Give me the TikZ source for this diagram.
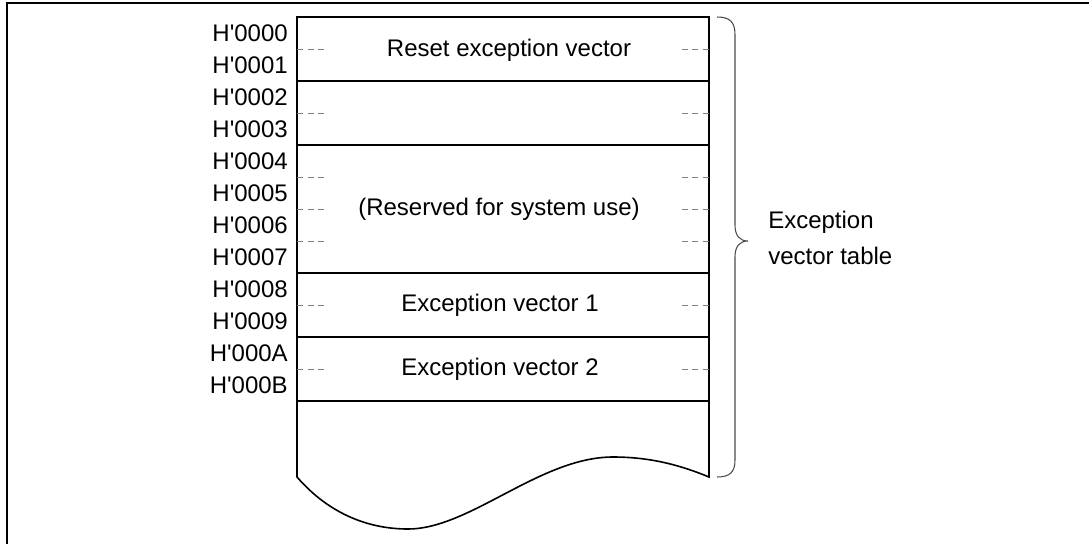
\documentclass[tikz,border=0pt]{standalone}
\usepackage{fontspec}
\setmainfont{Liberation Sans}[Ligatures=TeXOff]
\begin{document}
\begin{tikzpicture}[x=0.75pt,y=-0.75pt,
  lbl/.style={inner sep=0pt,font=\fontsize{18}{21}\selectfont},
  addr/.style={lbl,anchor=east},
  tline/.style={line width=1.2pt,black},
  dsh/.style={line width=0.7pt,gray,dash pattern=on 4.5pt off 3.5pt},
  frame/.style={line width=1.6pt,black}]
\useasboundingbox (0,0) rectangle (1089,544);
% outer frame (top and left)
\draw[frame] (7,544) -- (7,3) -- (1089,3);
% table
\coordinate (tl) at (297,17);
\coordinate (tr) at (709,17);
\coordinate (bl) at (297,477);
\coordinate (br) at (709,477);
\draw[tline] (bl) -- (tl) -- (tr) -- (br)
  .. controls (680,465) and (650,457) .. (613,457)
  .. controls (540,457) and (470,529) .. (408,529)
  .. controls (370,529) and (330,515) .. (bl) -- cycle;
\foreach \y in {81,145,273,337,401}
  \draw[tline] (297,\y) -- (709,\y);
% dashes
\foreach \y in {49,113,177,209,241,305,369}{
  \draw[dsh] (297,\y) -- (326,\y);
  \draw[dsh] (709,\y) -- (680,\y);
}
% addresses
\foreach \i/\t in {0/0000,1/0001,2/0002,3/0003,4/0004,5/0005,6/0006,7/0007,8/0008,9/0009,10/000A,11/000B}
  \node[addr] (a\i) at (288,{33+32*\i}) {H'\t};
% row texts
\node[lbl] (r0) at (509,50) {Reset exception vector};
\node[lbl] (r1) at (499,209) {(Reserved for system use)};
\node[lbl] (r2) at (500,305) {Exception vector 1};
\node[lbl] (r3) at (500,369) {Exception vector 2};
% brace
\draw[line width=0.8pt,black!70] (717,17) .. controls (730,17) and (735,22) .. (735,35)
  -- (735,225) .. controls (735,236) and (740,241) .. (748,241)
  .. controls (740,241) and (735,246) .. (735,257)
  -- (735,460) .. controls (735,472) and (730,477) .. (717,477);
\node[lbl,anchor=west,align=left,font=\fontsize{18}{27.5}\selectfont] (evt) at (768,238) {Exception\\vector table};
\end{tikzpicture}
\end{document}
